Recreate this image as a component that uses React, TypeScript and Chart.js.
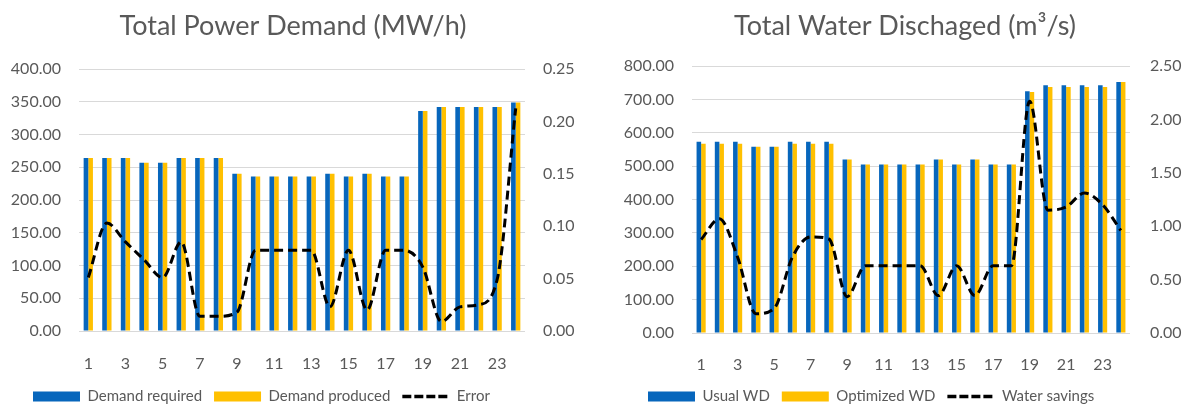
import React, { useEffect, useRef } from 'react';
import { Chart, registerables } from 'chart.js';

Chart.register(...registerables);

// ---------- data ----------
const hours = ['1','2','3','4','5','6','7','8','9','10','11','12','13','14','15','16','17','18','19','20','21','22','23','24'];

const demandRequired = [264, 264, 264, 257, 257, 264, 264, 264, 240, 236, 236, 236, 236, 240, 236, 240, 236, 236, 336, 342, 342, 342, 342, 349];
const demandProduced = [264, 264, 264, 257, 257, 264, 264, 264, 240, 236, 236, 236, 236, 240, 236, 240, 236, 236, 336, 342, 342, 342, 342, 349];
const errorValues = [0.051, 0.103, 0.085, 0.068, 0.051, 0.085, 0.014, 0.014, 0.018, 0.077, 0.077, 0.077, 0.077, 0.023, 0.077, 0.020, 0.077, 0.077, 0.061, 0.009, 0.023, 0.025, 0.049, 0.2125];

const usualWD = [573, 573, 573, 558, 558, 573, 573, 573, 520, 505, 505, 505, 505, 520, 505, 520, 505, 505, 724, 742, 742, 742, 742, 752];
const optimizedWD = [567, 567, 567, 558, 558, 567, 567, 567, 520, 505, 505, 505, 505, 520, 505, 520, 505, 505, 722, 737, 737, 737, 737, 752];
const waterSavings = [0.875, 1.07, 0.71, 0.18, 0.23, 0.71, 0.90, 0.88, 0.34, 0.63, 0.63, 0.63, 0.63, 0.35, 0.63, 0.35, 0.63, 0.63, 2.17, 1.15, 1.18, 1.31, 1.20, 0.96];

const powerTitle = 'Total Power Demand (MW/h)';
const waterTitle = 'Total Water Dischaged (m³/s)';
const powerLabels = ['Demand required', 'Demand produced', 'Error'];
const waterLabels = ['Usual WD', 'Optimized WD', 'Water savings'];

const powerLeftAxis = { max: 400, step: 50 };
const powerRightAxis = { max: 0.25, step: 0.05 };
const waterLeftAxis = { max: 800, step: 100 };
const waterRightAxis = { max: 2.5, step: 0.5 };

// ---------- style ----------
const BLUE = '#0766BC';
const YELLOW = '#FFC000';
const TEXT = '#595959';
const GRID = '#D9D9D9';
const FONT = 'Lato, "Open Sans", sans-serif';

const legendShift = {
  id: 'legendShift',
  afterLayout(chart: any, _args: any, opts: any) {
    const lg = chart.legend;
    if (!lg || opts == null || opts.x == null) return;
    const w = lg.right - lg.left;
    lg.left = opts.x - (lg.options.labels.padding || 0);
    lg.right = lg.left + w;
  },
};

function buildConfig(p: any): any {
  const tickFont = { family: FONT, size: 16 };
  return {
    type: 'bar',
    data: {
      labels: hours,
      datasets: [
        { type: 'bar', label: p.labels[0], data: p.bar1, backgroundColor: BLUE, borderWidth: 0, yAxisID: 'y', categoryPercentage: 0.5, barPercentage: 1, order: 1 },
        { type: 'bar', label: p.labels[1], data: p.bar2, backgroundColor: YELLOW, borderWidth: 0, yAxisID: 'y', categoryPercentage: 0.5, barPercentage: 1, order: 1 },
        { type: 'line', label: p.labels[2], data: p.line, borderColor: '#000', backgroundColor: '#000', borderWidth: 3, borderDash: [9, 5], pointRadius: 0, cubicInterpolationMode: 'monotone', tension: 0.4, fill: false, yAxisID: 'y1', order: 0 },
      ],
    },
    options: {
      responsive: false,
      animation: false,
      devicePixelRatio: 1,
      layout: { padding: { left: p.padLeft, right: p.padRight, top: 0, bottom: 0 } },
      plugins: {
        title: {
          display: true,
          text: p.title,
          color: TEXT,
          font: { family: FONT, size: 27, weight: 'normal', lineHeight: 1.2 },
          padding: { top: 10, bottom: p.titleBottom },
        },
        legend: {
          display: true,
          position: 'bottom',
          align: 'start',
          labels: {
            usePointStyle: true,
            pointStyleWidth: 47,
            boxHeight: 10,
            padding: 12,
            color: TEXT,
            font: { family: FONT, size: 15 },
            sort: (a: any, b: any) => a.datasetIndex - b.datasetIndex,
            generateLabels: (chart: any) => {
              const items = Chart.defaults.plugins.legend.labels.generateLabels(chart);
              return items.map((it: any) => {
                const ds = chart.data.datasets[it.datasetIndex];
                if (ds.type === 'line') {
                  return { ...it, pointStyle: 'line', lineWidth: 3.5, lineDash: [9, 3], strokeStyle: '#000', fillStyle: '#000', lineCap: 'butt' };
                }
                return { ...it, pointStyle: 'rect', lineWidth: 0 };
              });
            },
          },
        },
        tooltip: { enabled: false },
        legendShift: { x: p.legendX },
      },
      scales: {
        x: {
          grid: { display: false },
          border: { display: false },
          ticks: {
            autoSkip: false,
            maxRotation: 0,
            color: TEXT,
            font: tickFont,
            padding: p.xPad,
            callback: (_v: any, i: number) => (i % 2 === 0 ? hours[i] : ''),
          },
          afterFit: (s: any) => { s.height = p.xHeight; },
        },
        y: {
          position: 'left',
          min: 0,
          max: p.leftAxis.max,
          grid: { color: GRID, lineWidth: 1, drawTicks: false },
          border: { display: false },
          ticks: { stepSize: p.leftAxis.step, color: TEXT, font: tickFont, padding: 18, callback: (v: any) => Number(v).toFixed(2) },
          afterFit: (s: any) => { s.width = p.leftWidth; },
        },
        y1: {
          position: 'right',
          min: 0,
          max: p.rightAxis.max,
          grid: { display: false, drawTicks: false },
          border: { display: false },
          ticks: { stepSize: p.rightAxis.step, color: TEXT, font: tickFont, padding: p.rightPad, callback: (v: any) => Number(v).toFixed(2) },
          afterFit: (s: any) => { s.width = p.rightWidth; },
        },
      },
    },
    plugins: [legendShift],
  };
}

const powerConfig = () => buildConfig({
  title: powerTitle, labels: powerLabels, bar1: demandRequired, bar2: demandProduced, line: errorValues,
  leftAxis: powerLeftAxis, rightAxis: powerRightAxis,
  padLeft: 0, padRight: 10, titleBottom: 26.6, xHeight: 46, xPad: 15,
  leftWidth: 79, rightWidth: 61, rightPad: 18, legendX: 33,
});

const waterConfig = () => buildConfig({
  title: waterTitle, labels: waterLabels, bar1: usualWD, bar2: optimizedWD, line: waterSavings,
  leftAxis: waterLeftAxis, rightAxis: waterRightAxis,
  padLeft: 22, padRight: 0, titleBottom: 23.6, xHeight: 44, xPad: 14,
  leftWidth: 74, rightWidth: 62, rightPad: 20, legendX: 52,
});

function ChartCanvas({ make, left }: { make: () => any; left: number }) {
  const ref = useRef<HTMLCanvasElement>(null);
  useEffect(() => {
    const chart = new Chart(ref.current as HTMLCanvasElement, make());
    return () => chart.destroy();
  }, []);
  return (
    <canvas
      ref={ref}
      width={596}
      height={414}
      style={{ position: 'absolute', left, top: 0, width: 596, height: 414 }}
    />
  );
}

export default function App() {
  return (
    <div style={{ position: 'fixed', left: 0, top: 0, width: 1192, height: 408, overflow: 'hidden', background: '#fff' }}>
      <ChartCanvas make={powerConfig} left={0} />
      <ChartCanvas make={waterConfig} left={596} />
    </div>
  );
}
